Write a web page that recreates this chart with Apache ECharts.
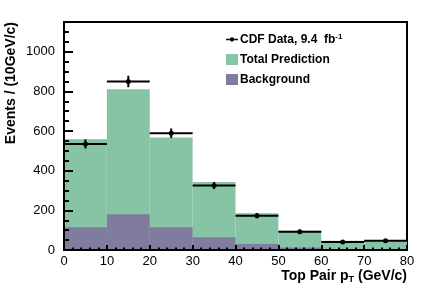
<!DOCTYPE html>
<html>
<head>
<meta charset="utf-8">
<script src="https://cdn.jsdelivr.net/npm/echarts@6/dist/echarts.min.js"></script>
<style>html,body{margin:0;padding:0;background:#fff}#c{width:429px;height:291px}</style>
</head>
<body>
<div id="c"></div>
<script>
// bin edges (GeV/c)
const binLow  = [0, 10, 20, 30, 40, 50, 60, 70];
const binHigh = [10, 20, 30, 40, 50, 60, 70, 80];
// Total prediction per bin
const totalPrediction = [558, 811, 567, 343, 185, 97, 47, 50];
// Background per bin
const background = [115, 180, 115, 64, 30, 13, 5, 5];
// CDF data per bin and its vertical uncertainty
const cdfData = [535, 850, 589, 325, 173, 92, 40, 47];
const cdfErr  = [23, 29, 24, 18, 13, 10, 6, 7];
const xTicks = [0, 10, 20, 30, 40, 50, 60, 70, 80];
const yTicks = [0, 200, 400, 600, 800, 1000];

const FONT = '"Liberation Sans", Arial, Helvetica, sans-serif';
const GREEN = '#86c4a5';
const PURPLE = '#7f7c9e';

function histSeries(name, vals, color, z) {
  return {
    name: name, type: 'custom', z: z,
    itemStyle: { color: color },
    data: vals.map((v, i) => [binLow[i], binHigh[i], v]),
    renderItem: function (params, api) {
      const p0 = api.coord([api.value(0), api.value(2)]);
      const p1 = api.coord([api.value(1), 0]);
      return { type: 'rect',
        shape: { x: p0[0], y: p0[1], width: p1[0] - p0[0], height: p1[1] - p0[1] },
        style: { fill: color } };
    }
  };
}

const chart = echarts.init(document.getElementById('c'), null, { renderer: 'canvas' });
chart.setOption({
  animation: false,
  textStyle: { fontFamily: FONT },
  grid: { left: 64, right: 22, top: 22, bottom: 41, show: true, borderColor: '#000', borderWidth: 2, backgroundColor: 'transparent' },
  xAxis: {
    type: 'value', min: 0, max: 80, interval: 10, z: 5,
    axisLine: { show: true, lineStyle: { color: '#000', width: 2 } },
    axisTick: { show: true, inside: true, length: 5, lineStyle: { color: '#000', width: 2 } },
    minorTick: { show: true, splitNumber: 5, length: 2.5, lineStyle: { color: '#000', width: 2 } },
    splitLine: { show: false },
    axisLabel: { color: '#000', fontSize: 13, fontFamily: FONT, margin: 5,
      formatter: v => xTicks.indexOf(v) >= 0 ? String(v) : '' }
  },
  yAxis: {
    type: 'value', min: 0, max: 1150, interval: 200, z: 5,
    axisLine: { show: true, lineStyle: { color: '#000', width: 2 } },
    axisTick: { show: true, inside: true, length: 9, lineStyle: { color: '#000', width: 2 } },
    minorTick: { show: true, splitNumber: 4, length: 5, lineStyle: { color: '#000', width: 2 } },
    splitLine: { show: false },
    axisLabel: { color: '#000', fontSize: 13, fontFamily: FONT, margin: 9, showMaxLabel: false,
      formatter: v => yTicks.indexOf(v) >= 0 ? String(v) : '' }
  },
  legend: {
    orient: 'vertical', left: 221, top: 27.5, itemWidth: 12, itemHeight: 11, itemGap: 8,
    selectedMode: false,
    data: [
      { name: 'CDF Data', icon: 'path://M0,5L14,5L14,7L0,7Z M7,3.5 A2.5,2.5 0 1 1 7,8.5 A2.5,2.5 0 1 1 7,3.5Z' },
      { name: 'Total Prediction', icon: 'rect' },
      { name: 'Background', icon: 'rect' }
    ],
    formatter: function (name) {
      if (name === 'CDF Data') return '{b|CDF Data, 9.4  fb}{sup|-1}';
      return '{b|' + name + '}';
    },
    textStyle: {
      color: '#000', padding: [0, 0, 0, -3],
      rich: {
        b: { fontSize: 12, fontWeight: 'bold', fontFamily: FONT, color: '#000', lineHeight: 14 },
        sup: { fontSize: 8, fontWeight: 'bold', fontFamily: FONT, color: '#000', lineHeight: 8, verticalAlign: 'top' }
      }
    }
  },
  graphic: [
    { type: 'text', x: 11, y: 22, rotation: Math.PI / 2,
      style: { text: 'Events / (10GeV/c)', fill: '#000', font: 'bold 14px ' + FONT, align: 'right', verticalAlign: 'middle' } },
    { type: 'text', x: 407, y: 268,
      style: { text: '{a|Top Pair p}{s|T}{a| (GeV/c)}', align: 'right', verticalAlign: 'top',
        rich: {
          a: { font: 'bold 14px ' + FONT, fill: '#000', lineHeight: 16 },
          s: { font: 'bold 9px ' + FONT, fill: '#000', lineHeight: 7, verticalAlign: 'bottom' }
        } } }
  ],
  series: [
    histSeries('Total Prediction', totalPrediction, GREEN, 1),
    histSeries('Background', background, PURPLE, 2),
    {
      name: 'CDF Data', type: 'custom', z: 3,
      itemStyle: { color: '#000' },
      data: cdfData.map((v, i) => [binLow[i], binHigh[i], v, cdfErr[i]]),
      renderItem: function (params, api) {
        const x0 = api.value(0), x1 = api.value(1), y = api.value(2), e = api.value(3);
        const xc = (x0 + x1) / 2;
        const a = api.coord([x0, y]), b = api.coord([x1, y]);
        const c = api.coord([xc, y]);
        const lo = api.coord([xc, y - e]), hi = api.coord([xc, y + e]);
        return { type: 'group', children: [
          { type: 'line', shape: { x1: a[0], y1: a[1], x2: b[0], y2: b[1] }, style: { stroke: '#000', lineWidth: 2 } },
          { type: 'line', shape: { x1: lo[0], y1: lo[1], x2: hi[0], y2: hi[1] }, style: { stroke: '#000', lineWidth: 2 } },
          { type: 'circle', shape: { cx: c[0], cy: c[1], r: 2.5 }, style: { fill: '#000' } }
        ] };
      }
    }
  ]
});
</script>
</body>
</html>
